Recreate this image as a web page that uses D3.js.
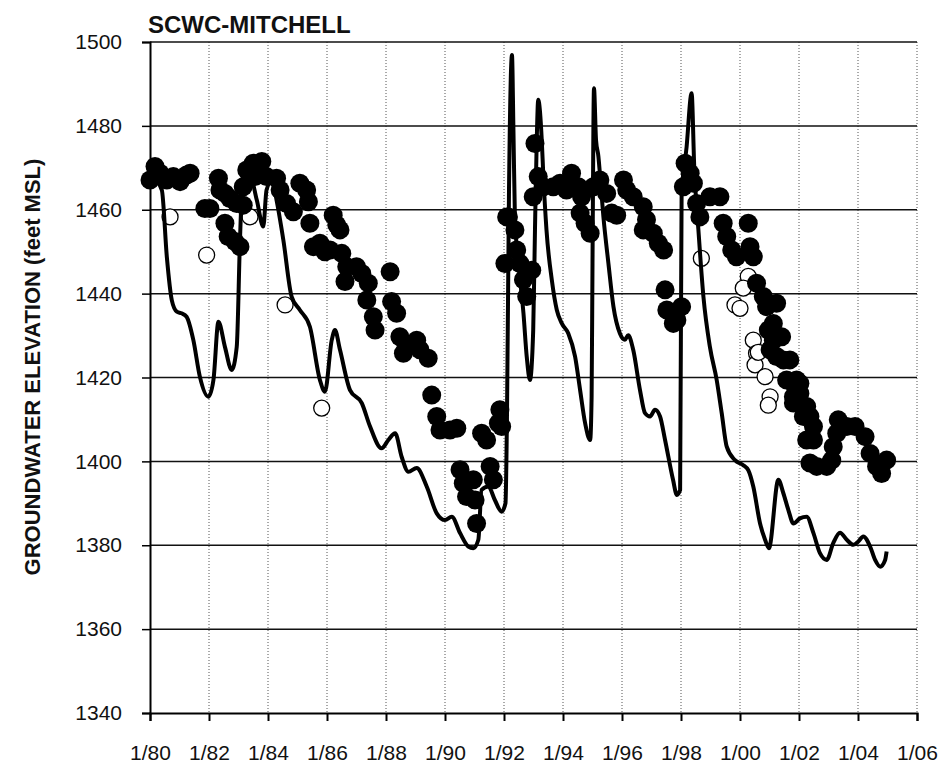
<!DOCTYPE html>
<html lang="en">
<head>
  <meta charset="UTF-8">
  <title>SCWC-MITCHELL</title>
  <style>
    body, html {
      margin: 0;
      padding: 0;
      background-color: #fff;
    }
    #svg {
      display: block;
      font-family: "Liberation Sans", Arial, sans-serif;
    }
  </style>
</head>
<body>
  <svg id="svg" width="939" height="767"></svg>
  <script src="https://d3js.org/d3.v7.min.js"></script>
  <script>
    // simulated groundwater elevation (solid line)
    const simYear = [1980.05, 1980.40, 1980.57, 1980.74, 1980.91, 1981.07, 1981.24, 1981.47, 1981.69, 1981.98,
      1982.15, 1982.32, 1982.54, 1982.77, 1982.94, 1983.05, 1983.11, 1983.16, 1983.39, 1983.62,
      1983.84, 1983.95, 1984.14, 1984.29, 1984.52, 1984.80, 1985.08, 1985.42, 1985.76, 1985.93,
      1986.16, 1986.27, 1986.44, 1986.78, 1987.18, 1987.46, 1987.85, 1988.08, 1988.31, 1988.53,
      1988.76, 1989.04, 1989.38, 1989.72, 1990.00, 1990.23, 1990.51, 1990.79, 1990.96, 1991.13,
      1991.24, 1991.47, 1991.69, 1991.92, 1992.05, 1992.10, 1992.17, 1992.27, 1992.32, 1992.37,
      1992.49, 1992.66, 1992.77, 1992.88, 1992.99, 1993.05, 1993.11, 1993.16, 1993.28, 1993.33,
      1993.44, 1993.62, 1993.79, 1993.96, 1994.18, 1994.41, 1994.58, 1994.75, 1994.92, 1994.97,
      1995.00, 1995.05, 1995.12, 1995.20, 1995.25, 1995.37, 1995.54, 1995.71, 1995.93, 1996.10,
      1996.21, 1996.38, 1996.61, 1996.78, 1996.95, 1997.12, 1997.29, 1997.46, 1997.73, 1997.86,
      1997.97, 1998.02, 1998.19, 1998.36, 1998.45, 1998.59, 1998.76, 1998.98, 1999.21, 1999.38,
      1999.55, 1999.83, 2000.11, 2000.28, 2000.45, 2000.68, 2000.85, 2000.98, 2001.30, 2001.47,
      2001.64, 2001.81, 2002.03, 2002.26, 2002.49, 2002.71, 2002.94, 2003.16, 2003.39, 2003.62,
      2003.84, 2004.01, 2004.18, 2004.41, 2004.58, 2004.75, 2004.92, 2004.97]
    const simElev = [1468, 1464.7, 1448.8, 1438.4, 1435.7, 1435.3, 1434.5, 1428.9, 1420.2, 1415.4,
      1419.4, 1433.3, 1427.3, 1421.8, 1427.3, 1452.8, 1463.9, 1468.7, 1468.3, 1462.3,
      1456.0, 1464.7, 1467.1, 1462.3, 1452.8, 1439.3, 1436.1, 1432.1, 1419.4, 1416.6,
      1428.9, 1431.3, 1426.6, 1417.0, 1413.9, 1408.3, 1403.1, 1405.1, 1406.7, 1401.1,
      1397.5, 1398.4, 1394.0, 1387.6, 1386.0, 1386.8, 1382.9, 1379.7, 1379.3, 1381.3,
      1393.2, 1394.0, 1390.8, 1388.0, 1390, 1410, 1465, 1496.9, 1479.0, 1458.3,
      1447.2, 1435.3, 1425.0, 1419.4, 1431.3, 1455.2, 1476.6, 1486.2, 1476.6, 1468.7,
      1455.2, 1443.3, 1436.1, 1432.9, 1430.5, 1425.0, 1417.0, 1409.1, 1405.1, 1415.4,
      1447.2, 1489.0, 1476.6, 1472.7, 1468.7, 1458.3, 1447.2, 1436.9, 1430.5, 1429.0,
      1430.1, 1426.6, 1417.0, 1411.5, 1410.7, 1412.3, 1410.7, 1405.1, 1395.6, 1392.0,
      1393.2, 1463.1, 1475.0, 1487.8, 1470.0, 1455.2, 1439.3, 1427.3, 1419.4, 1411.5,
      1403.5, 1400.3, 1399.1, 1397.9, 1394.0, 1385.2, 1381.3, 1379.3, 1395.6, 1392.4,
      1388.4, 1385.2, 1386.4, 1386.8, 1382.9, 1378.1, 1376.5, 1380.5, 1383.0, 1381.3,
      1380.1, 1380.9, 1382.1, 1379.7, 1376.5, 1374.9, 1376.5, 1378.5]

    // measured groundwater elevation (filled circles)
    const obsYear = [1980.00, 1980.17, 1980.34, 1980.57, 1980.79, 1981.02, 1981.24, 1981.36, 1981.86, 1982.03,
      1982.32, 1982.37, 1982.54, 1982.71, 1982.94, 1983.16, 1982.54, 1982.65, 1982.88, 1983.05,
      1983.16, 1983.28, 1983.50, 1983.56, 1983.79, 1983.95, 1984.29, 1984.41, 1984.63, 1984.86,
      1985.08, 1985.31, 1985.37, 1985.42, 1985.54, 1985.76, 1985.93, 1986.21, 1986.33, 1986.44,
      1986.10, 1986.50, 1986.67, 1986.61, 1987.00, 1987.18, 1987.40, 1987.35, 1987.57, 1987.63,
      1988.14, 1988.19, 1988.36, 1988.47, 1988.70, 1988.59, 1989.04, 1989.15, 1989.43, 1989.55,
      1989.72, 1989.83, 1990.17, 1990.40, 1990.51, 1990.62, 1990.73, 1990.96, 1991.02, 1991.07,
      1991.24, 1991.41, 1991.53, 1991.64, 1991.86, 1991.92, 1991.81, 1992.03, 1992.09, 1992.15,
      1992.37, 1992.43, 1992.54, 1992.66, 1992.77, 1992.94, 1993.05, 1993.16, 1992.99, 1993.33,
      1993.67, 1993.90, 1994.12, 1994.29, 1994.52, 1994.63, 1994.58, 1994.75, 1994.92, 1995.03,
      1995.25, 1995.48, 1995.65, 1995.82, 1996.05, 1996.16, 1996.38, 1996.72, 1996.83, 1996.72,
      1997.06, 1997.23, 1997.41, 1997.46, 1997.52, 1997.74, 1997.86, 1998.02, 1998.08, 1998.14,
      1998.31, 1998.42, 1998.53, 1998.64, 1998.98, 1999.32, 1999.43, 1999.55, 1999.72, 1999.88,
      2000.28, 2000.34, 2000.45, 2000.56, 2000.79, 2000.90, 2001.24, 2001.13, 2000.96, 2001.13,
      2001.41, 2001.02, 2001.24, 2001.47, 2001.58, 2001.69, 2001.81, 2002.03, 2001.81, 2001.92,
      2002.03, 2001.81, 2002.15, 2002.26, 2002.37, 2002.49, 2002.26, 2002.49, 2002.60, 2002.37,
      2002.94, 2003.11, 2003.16, 2003.28, 2003.33, 2003.62, 2003.90, 2004.24, 2004.41, 2004.63,
      2004.80, 2004.97]
    const obsElev = [1467.1, 1470.3, 1468.7, 1467.1, 1467.9, 1466.7, 1468.3, 1468.7, 1460.3, 1460.3,
      1467.5, 1464.7, 1463.9, 1462.7, 1461.5, 1461.1, 1456.8, 1453.6, 1452.4, 1451.2,
      1465.5, 1469.5, 1471.1, 1467.9, 1471.5, 1467.9, 1467.5, 1464.7, 1461.5, 1459.5,
      1466.3, 1464.7, 1461.9, 1456.8, 1451.2, 1452.0, 1450.0, 1458.7, 1456.4, 1455.2,
      1450.4, 1449.6, 1446.4, 1442.9, 1446.4, 1444.8, 1442.5, 1438.5, 1434.5, 1431.3,
      1445.2, 1438.1, 1435.3, 1429.7, 1427.3, 1425.8, 1428.9, 1426.6, 1424.6, 1415.8,
      1410.7, 1407.5, 1407.5, 1407.9, 1398.0, 1394.8, 1391.6, 1395.6, 1390.8, 1385.2,
      1406.7, 1405.1, 1398.8, 1395.6, 1412.3, 1408.3, 1409.1, 1447.2, 1458.3, 1458.3,
      1455.2, 1450.4, 1447.2, 1443.3, 1439.3, 1445.6, 1475.8, 1467.9, 1463.1, 1465.5,
      1465.5, 1466.3, 1464.7, 1468.7, 1465.5, 1463.1, 1459.2, 1456.8, 1454.4, 1465.5,
      1467.1, 1463.9, 1459.2, 1458.7, 1467.1, 1464.7, 1463.1, 1460.7, 1457.6, 1455.2,
      1454.4, 1452.0, 1450.4, 1440.9, 1436.1, 1432.9, 1433.7, 1436.9, 1465.5, 1471.1,
      1468.7, 1466.3, 1461.5, 1458.3, 1463.1, 1463.1, 1456.8, 1453.6, 1450.4, 1448.8,
      1456.8, 1451.2, 1448.8, 1442.5, 1439.3, 1436.9, 1437.7, 1432.9, 1431.3, 1428.9,
      1429.7, 1426.6, 1425.0, 1424.2, 1419.4, 1424.2, 1418.6, 1418.6, 1415.4, 1419.4,
      1416.2, 1413.9, 1410.7, 1413.1, 1410.7, 1408.3, 1405.1, 1405.1, 1398.8, 1399.6,
      1398.8, 1400.3, 1403.5, 1406.7, 1409.9, 1408.3, 1408.3, 1405.9, 1401.9, 1398.8,
      1397.1, 1400.3]

    // other measured elevations (open circles)
    const openYear = [1980.68, 1981.92, 1983.39, 1984.58, 1985.82, 1998.69, 2000.28, 2000.11, 1999.83, 2000.00,
      2000.45, 2000.56, 2000.51, 2000.62, 2000.85, 2001.02, 2000.96]
    const openElev = [1458.3, 1449.2, 1458.3, 1437.3, 1412.7, 1448.4, 1444.1, 1441.3, 1437.3, 1436.5,
      1428.9, 1425.8, 1423.0, 1426.0, 1420.2, 1415.4, 1413.4]

    const xTickLabels = ['1/80', '1/82', '1/84', '1/86', '1/88', '1/90', '1/92', '1/94', '1/96', '1/98', '1/00', '1/02', '1/04', '1/06']
    const yTickValues = [1340, 1360, 1380, 1400, 1420, 1440, 1460, 1480, 1500]

    const width = 939
    const height = 767
    const margin = { top: 42, right: 22, bottom: 54, left: 150 }

    const xScale = d3.scaleLinear()
      .domain([1980, 2006])
      .range([margin.left, width - margin.right])
    const yScale = d3.scaleLinear()
      .domain([1340, 1500])
      .range([height - margin.bottom, margin.top])

    const xTickValues = xTickLabels.map((d, i) => 1980 + i * 2)

    const svg = d3.select('#svg')

    // vertical dotted gridlines
    svg.append('g')
      .selectAll('line')
      .data(xTickValues.slice(1))
      .enter()
      .append('line')
      .attr('x1', d => xScale(d))
      .attr('x2', d => xScale(d))
      .attr('y1', yScale(1500))
      .attr('y2', yScale(1340))
      .attr('stroke', '#555')
      .attr('stroke-width', 1)
      .attr('stroke-dasharray', '1,2')

    // horizontal gridlines
    svg.append('g')
      .selectAll('line')
      .data(yTickValues.slice(1))
      .enter()
      .append('line')
      .attr('x1', margin.left)
      .attr('x2', width - margin.right)
      .attr('y1', d => yScale(d))
      .attr('y2', d => yScale(d))
      .attr('stroke', '#111')
      .attr('stroke-width', 1.5)

    const bottomAxis = d3.axisBottom(xScale)
      .tickValues(xTickValues)
      .tickFormat((d, i) => xTickLabels[i])
      .tickSize(8)
      .tickPadding(24)
    const leftAxis = d3.axisLeft(yScale)
      .tickValues(yTickValues)
      .tickFormat(d3.format('d'))
      .tickSize(8)
      .tickPadding(20)

    const gx = svg.append('g')
      .attr('transform', `translate(0, ${height - margin.bottom})`)
      .call(bottomAxis)
    const gy = svg.append('g')
      .attr('transform', `translate(${margin.left}, 0)`)
      .call(leftAxis)

    gx.select('.domain').attr('stroke', '#000').attr('stroke-width', 2)
    gy.select('.domain').attr('stroke', '#000').attr('stroke-width', 2)
    gx.selectAll('.tick line').attr('stroke', '#000').attr('stroke-width', 2)
    gy.selectAll('.tick line').attr('stroke', '#000').attr('stroke-width', 1.5)
    gx.selectAll('text')
      .style('font-family', '"Liberation Sans", Arial, sans-serif')
      .style('font-size', '21px')
      .attr('fill', '#111')
    gy.selectAll('text')
      .style('font-family', '"Liberation Sans", Arial, sans-serif')
      .style('font-size', '21px')
      .attr('fill', '#111')

    // open circles
    const openData = openYear.map((d, i) => ({ x: d, y: openElev[i] }))
    svg.append('g')
      .selectAll('circle')
      .data(openData)
      .enter()
      .append('circle')
      .attr('cx', d => xScale(d.x))
      .attr('cy', d => yScale(d.y))
      .attr('r', 8)
      .attr('fill', '#fff')
      .attr('stroke', '#000')
      .attr('stroke-width', 1.3)

    // filled circles
    const obsData = obsYear.map((d, i) => ({ x: d, y: obsElev[i] }))
    svg.append('g')
      .selectAll('circle')
      .data(obsData)
      .enter()
      .append('circle')
      .attr('cx', d => xScale(d.x))
      .attr('cy', d => yScale(d.y))
      .attr('r', 9.5)
      .attr('fill', '#000')

    // simulated line
    const simData = simYear.map((d, i) => ({ x: d, y: simElev[i] }))
    const line = d3.line()
      .x(d => xScale(d.x))
      .y(d => yScale(d.y))
      .curve(d3.curveMonotoneX)
    svg.append('path')
      .datum(simData)
      .attr('d', line)
      .attr('fill', 'none')
      .attr('stroke', '#000')
      .attr('stroke-width', 4)
      .attr('stroke-linejoin', 'round')

    // title
    svg.append('text')
      .text('SCWC-MITCHELL')
      .attr('x', 148)
      .attr('y', 33)
      .style('font-size', '24px')
      .style('font-weight', 'bold')
      .attr('fill', '#111')

    // y axis title
    svg.append('text')
      .text('GROUNDWATER ELEVATION (feet MSL)')
      .attr('transform', 'translate(40, 367) rotate(-90)')
      .attr('text-anchor', 'middle')
      .style('font-size', '22px')
      .style('font-weight', 'bold')
      .attr('fill', '#111')
  </script>
</body>
</html>
